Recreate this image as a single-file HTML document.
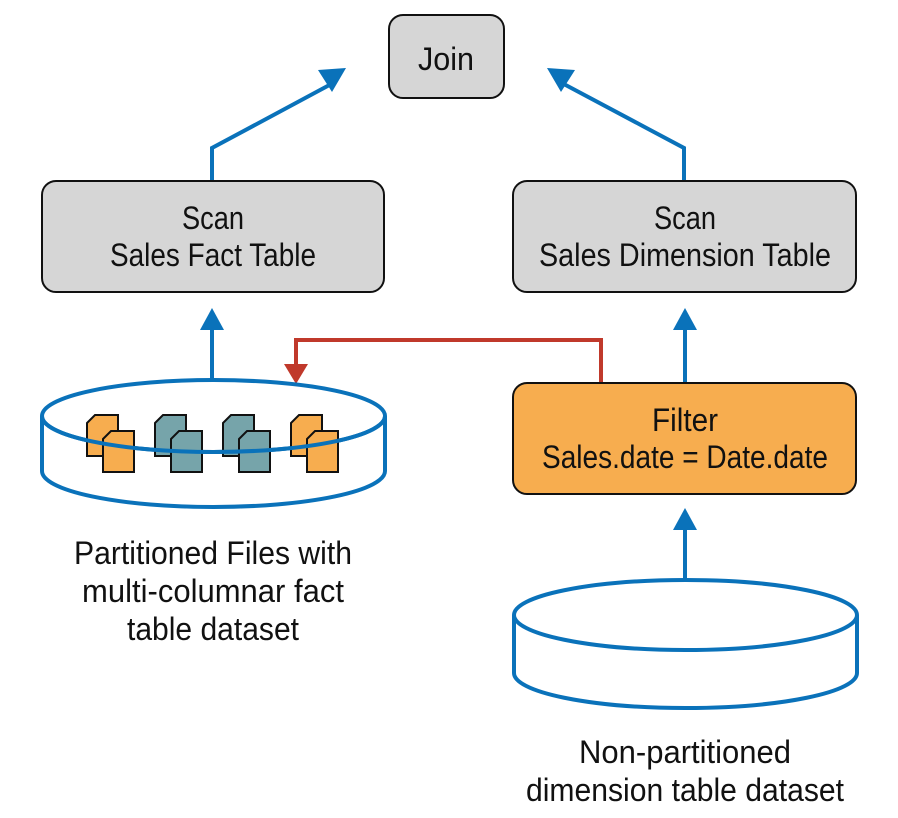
<!DOCTYPE html>
<html><head><meta charset="utf-8"><style>html,body{margin:0;padding:0;background:#fff}svg{display:block}text{font-family:"Liberation Sans",sans-serif;font-size:32px;fill:#111}</style></head>
<body>
<svg width="898" height="818" viewBox="0 0 898 818" xmlns="http://www.w3.org/2000/svg">
<defs>
<g id="doc"><path d="M0,8 L8,0 L31,0 L31,41 L0,41 Z" stroke="#111" stroke-width="2"/></g>
</defs>
<rect x="389" y="15" width="115" height="83" rx="14" fill="#d6d6d6" stroke="#111" stroke-width="2"/>
<text x="446" y="70" text-anchor="middle" textLength="56" lengthAdjust="spacingAndGlyphs">Join</text>
<g stroke="#0a72ba" stroke-width="4" fill="none">
<polyline points="212,180 212,148 335,82"/>
<polyline points="684,180 684,148 560,82"/>
<line x1="212" y1="380" x2="212" y2="328"/>
<line x1="685" y1="382" x2="685" y2="328"/>
<line x1="685" y1="580" x2="685" y2="528"/>
</g>
<g fill="#0a72ba">
<polygon points="346,68 318,70 332,92"/>
<polygon points="547,68 575,70 561,92"/>
<polygon points="212,308 200,330 224,330"/>
<polygon points="685,308 673,330 697,330"/>
<polygon points="685,508 673,530 697,530"/>
</g>
<polyline points="601,382 601,340 296,340 296,366" stroke="#c0392b" stroke-width="4" fill="none"/>
<polygon points="296,384 284,364 308,364" fill="#c0392b"/>
<rect x="42" y="181" width="342" height="111" rx="14" fill="#d6d6d6" stroke="#111" stroke-width="2"/>
<text x="213" y="229" text-anchor="middle" textLength="62" lengthAdjust="spacingAndGlyphs">Scan</text>
<text x="213" y="266" text-anchor="middle" textLength="206" lengthAdjust="spacingAndGlyphs">Sales Fact Table</text>
<rect x="513" y="181" width="343" height="111" rx="14" fill="#d6d6d6" stroke="#111" stroke-width="2"/>
<text x="685" y="229" text-anchor="middle" textLength="62" lengthAdjust="spacingAndGlyphs">Scan</text>
<text x="685" y="266" text-anchor="middle" textLength="292" lengthAdjust="spacingAndGlyphs">Sales Dimension Table</text>
<rect x="513" y="383" width="343" height="111" rx="14" fill="#f7ad4f" stroke="#111" stroke-width="2"/>
<text x="685" y="431" text-anchor="middle" textLength="66" lengthAdjust="spacingAndGlyphs">Filter</text>
<text x="685" y="468" text-anchor="middle" textLength="286" lengthAdjust="spacingAndGlyphs">Sales.date = Date.date</text>
<g stroke="#0a72ba" stroke-width="4" fill="#fff">
<path d="M42,416 L42,471 A171.5,36 0 0 0 385,471 L385,416"/>
<ellipse cx="213.5" cy="416" rx="171.5" ry="36" fill="#fff"/>
</g>
<g transform="translate(87,415)" fill="#f7ad4f"><use href="#doc"/><use href="#doc" x="16" y="16"/></g>
<g transform="translate(155,415)" fill="#76a4aa"><use href="#doc"/><use href="#doc" x="16" y="16"/></g>
<g transform="translate(223,415)" fill="#76a4aa"><use href="#doc"/><use href="#doc" x="16" y="16"/></g>
<g transform="translate(291,415)" fill="#f7ad4f"><use href="#doc"/><use href="#doc" x="16" y="16"/></g>
<path d="M42,416 A171.5,36 0 0 0 385,416" stroke="#0a72ba" stroke-width="4" fill="none"/>
<g stroke="#0a72ba" stroke-width="4" fill="#fff">
<path d="M514,615 L514,673 A171.5,35 0 0 0 857,673 L857,615"/>
<ellipse cx="685.5" cy="615" rx="171.5" ry="35"/>
</g>
<text x="213" y="564" text-anchor="middle" textLength="278" lengthAdjust="spacingAndGlyphs">Partitioned Files with</text>
<text x="213" y="602" text-anchor="middle" textLength="262" lengthAdjust="spacingAndGlyphs">multi-columnar fact</text>
<text x="213" y="640" text-anchor="middle" textLength="172" lengthAdjust="spacingAndGlyphs">table dataset</text>
<text x="685" y="763" text-anchor="middle" textLength="212" lengthAdjust="spacingAndGlyphs">Non-partitioned</text>
<text x="685" y="801" text-anchor="middle" textLength="318" lengthAdjust="spacingAndGlyphs">dimension table dataset</text>
</svg>
</body></html>
